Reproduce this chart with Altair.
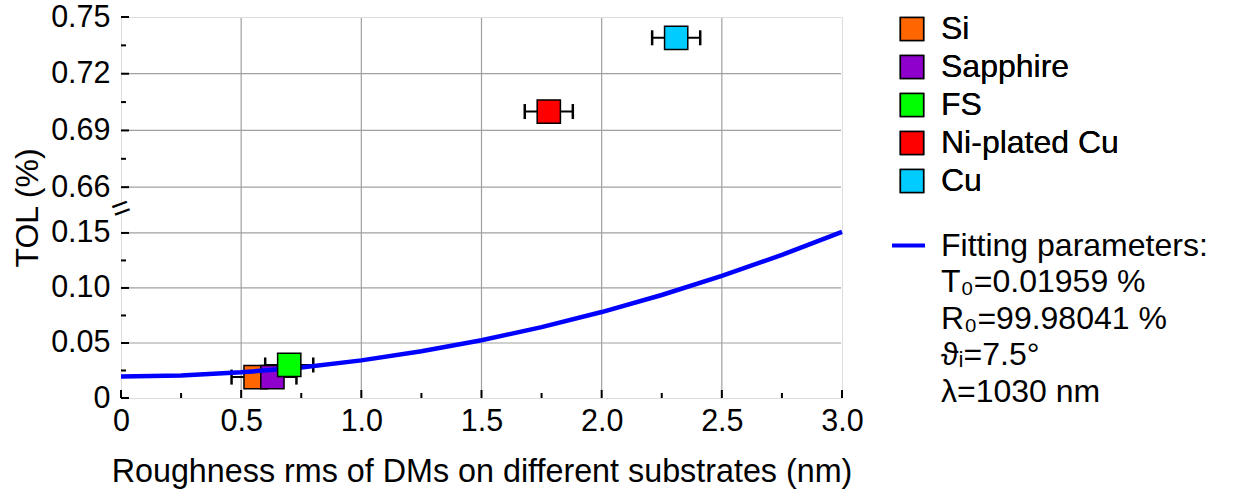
import altair as alt
import pandas as pd

# ---------------- data ----------------
substrates = ["Si", "Sapphire", "FS", "Ni-plated Cu", "Cu"]
roughness = [0.56, 0.63, 0.70, 1.78, 2.31]
roughness_err = [0.10, 0.10, 0.10, 0.10, 0.10]
tol = [0.019, 0.019, 0.030, 0.700, 0.739]
colors = ["#ff6600", "#9000cc", "#00ff00", "#ff0000", "#00ccff"]

fit_x = [0.0, 0.25, 0.5, 0.75, 1.0, 1.25, 1.5, 1.75, 2.0, 2.25, 2.5, 2.75, 3.0]
fit_y = [0.0196, 0.0205, 0.0233, 0.0278, 0.0342, 0.0425, 0.0525, 0.0644,
         0.0781, 0.0936, 0.111, 0.130, 0.151]

fit_legend = ["Fitting parameters:", "T\u2080=0.01959 %", "R\u2080=99.98041 %",
              "\u03d1\u1d62=7.5\u00b0", "\u03bb=1030 nm"]

x_ticks_major = [0, 0.5, 1.0, 1.5, 2.0, 2.5, 3.0]
x_ticks_minor = [0.25, 0.75, 1.25, 1.75, 2.25, 2.75]
x_grid = [0.5, 1.0, 1.5, 2.0, 2.5]
y_ticks_major = [0, 0.05, 0.10, 0.15, 0.66, 0.69, 0.72, 0.75]
y_ticks_minor = [0.025, 0.075, 0.125, 0.675, 0.705, 0.735]
y_grid = [0.05, 0.10, 0.15, 0.66, 0.69, 0.72]

# broken y axis: lower segment [0, LOW_TOP], upper segment [HIGH_BOTTOM, HIGH_TOP]
LOW_TOP = 0.172
HIGH_BOTTOM = 0.6486
HIGH_TOP = 0.75
K = 1.71818  # upper segment is stretched relative to the lower one


def disp(v):
    return LOW_TOP + (v - HIGH_BOTTOM) * K if v > LOW_TOP else v


def disp_expr(f):
    return f"(datum.{f} > {LOW_TOP} ? {LOW_TOP} + (datum.{f} - {HIGH_BOTTOM}) * {K} : datum.{f})"


points_df = pd.DataFrame({"name": substrates, "r": roughness, "err": roughness_err, "tol": tol})
fit_df = pd.DataFrame({"x": fit_x, "y": fit_y, "label": fit_legend[0]})

W, H = 721, 381
FONT = "Liberation Sans"

xscale = alt.Scale(domain=[0, 3], nice=False, zero=False)
yscale = alt.Scale(domain=[0, disp(HIGH_TOP)], nice=False, zero=False)

x_axis = alt.Axis(
    values=x_ticks_major,
    labelExpr="datum.value == 0 ? '0' : format(datum.value, '.1f')",
    labelFontSize=30.5, labelColor="black", labelPadding=8, labelFlush=False,
    labelOverlap=False, domain=False, ticks=False, grid=False,
    title="Roughness rms of DMs on different substrates (nm)",
    titleFontSize=32.3, titleFontWeight="normal", titleColor="black",
    titleY=83, titleBaseline="alphabetic",
)
y_axis = alt.Axis(
    values=[disp(v) for v in y_ticks_major],
    labelExpr=(f"datum.value > {LOW_TOP + 0.005} ? format((datum.value - {LOW_TOP}) / {K} + {HIGH_BOTTOM}, '.2f')"
               " : (datum.value < 0.001 ? '0' : format(datum.value, '.2f'))"),
    labelFontSize=30.5, labelColor="black", labelPadding=11, labelFlush=False,
    labelOverlap=False, domain=False, ticks=False, grid=False,
    title="TOL (%)", titleFontSize=32, titleFontWeight="normal", titleColor="black",
    titleAngle=270, titleX=-84, titleY=H / 2, titleBaseline="alphabetic", titleAlign="center",
)


def X(f):
    return alt.X(f"{f}:Q", scale=xscale, axis=x_axis)


def Y(f):
    return alt.Y(f"{f}:Q", scale=yscale, axis=y_axis)


# grid lines
grid_xl = alt.Chart(pd.DataFrame({"v": x_grid})).mark_rule(color="#a0a0a0", strokeWidth=1.2).encode(
    x=X("v"), y=alt.value(1), y2=alt.value(H - 1))
grid_yl = alt.Chart(pd.DataFrame({"v": y_grid})).transform_calculate(d=disp_expr("v")).mark_rule(
    color="#a0a0a0", strokeWidth=1.2).encode(y=Y("d"), x=alt.value(1), x2=alt.value(W - 1))

# inward ticks
xt_major = alt.Chart(pd.DataFrame({"v": x_ticks_major})).mark_rule(color="black", strokeWidth=2).encode(
    x=X("v"), y=alt.value(H), y2=alt.value(H - 8))
xt_minor = alt.Chart(pd.DataFrame({"v": x_ticks_minor})).mark_rule(color="black", strokeWidth=2).encode(
    x=X("v"), y=alt.value(H), y2=alt.value(H - 5))
yt_major = alt.Chart(pd.DataFrame({"v": y_ticks_major})).transform_calculate(d=disp_expr("v")).mark_rule(
    color="black", strokeWidth=2).encode(y=Y("d"), x=alt.value(0), x2=alt.value(8))
yt_minor = alt.Chart(pd.DataFrame({"v": y_ticks_minor})).transform_calculate(d=disp_expr("v")).mark_rule(
    color="black", strokeWidth=2).encode(y=Y("d"), x=alt.value(0), x2=alt.value(5))

# axis break marks
brk_df = pd.DataFrame({"b": [LOW_TOP], "lo": [LOW_TOP - 0.0025], "hi": [LOW_TOP + 0.0025]})
brk_cut = alt.Chart(brk_df).mark_rule(color="white", strokeWidth=5).encode(
    y=Y("lo"), y2="hi:Q", x=alt.value(0))
brk_mark = alt.Chart(brk_df).mark_text(text="=", fontSize=32, angle=340, color="black",
                                        font=FONT).encode(y=Y("b"), x=alt.value(0))

# data points
base = alt.Chart(points_df).transform_calculate(
    yd=disp_expr("tol"), lo="datum.r - datum.err", hi="datum.r + datum.err")

err_rule = base.mark_rule(color="black", strokeWidth=2).encode(x=X("lo"), x2="hi:Q", y=Y("yd"))
err_cap_lo = base.mark_tick(orient="vertical", size=15, thickness=2.5, color="black", opacity=1).encode(
    x=X("lo"), y=Y("yd"))
err_cap_hi = base.mark_tick(orient="vertical", size=15, thickness=2.5, color="black", opacity=1).encode(
    x=X("hi"), y=Y("yd"))

fill_enc = alt.Fill(
    "name:N",
    scale=alt.Scale(domain=substrates, range=colors),
    legend=alt.Legend(
        title=None, orient="none", legendX=775, legendY=-4, padding=0,
        symbolType="square", symbolSize=540, symbolStrokeColor="black", symbolStrokeWidth=1.5,
        symbolOpacity=1, labelFontSize=32, labelColor="black", labelOffset=13, rowPadding=6,
        labelFont=FONT, labelLimit=0,
    ),
)

sq_first = base.transform_filter(alt.FieldOneOfPredicate(field="name", oneOf=substrates[:2])).mark_square(
    size=540, stroke="black", strokeWidth=1.5, opacity=1, fillOpacity=1).encode(
    x=X("r"), y=Y("yd"), fill=fill_enc)
sq_second = base.transform_filter(alt.FieldOneOfPredicate(field="name", oneOf=substrates[2:])).mark_square(
    size=540, stroke="black", strokeWidth=1.5, opacity=1, fillOpacity=1).encode(
    x=X("r"), y=Y("yd"), fill=fill_enc)

fit_line = alt.Chart(fit_df).transform_calculate(yd=disp_expr("y")).mark_line(strokeWidth=4.5).encode(
    x=X("x"), y=Y("yd"),
    stroke=alt.Stroke(
        "label:N",
        scale=alt.Scale(domain=fit_legend,
                        range=["#0000ff", "rgba(0,0,0,0)", "rgba(0,0,0,0)", "rgba(0,0,0,0)", "rgba(0,0,0,0)"]),
        legend=alt.Legend(
            title=None, orient="none", legendX=769, legendY=210, padding=0,
            symbolType="stroke", symbolSize=1089, symbolStrokeWidth=4,
            labelFontSize=32, labelColor="black", labelOffset=14, rowPadding=1.5, labelFont=FONT,
            labelLimit=0,
        ),
    ),
)

chart = alt.layer(
    grid_xl, grid_yl, xt_major, xt_minor, yt_major, yt_minor,
    err_rule, err_cap_lo, err_cap_hi, sq_first, fit_line, sq_second,
    brk_cut, brk_mark,
).resolve_legend(fill="independent", stroke="independent").properties(
    width=W, height=H,
    autosize=alt.AutoSizeParams(type="none"),
    padding={"left": 121, "top": 17, "right": 401, "bottom": 95},
).configure_view(
    stroke="black", strokeWidth=2,
).configure(
    font=FONT,
)

chart.save("out.html", embed_options={"renderer": "svg", "actions": False})
